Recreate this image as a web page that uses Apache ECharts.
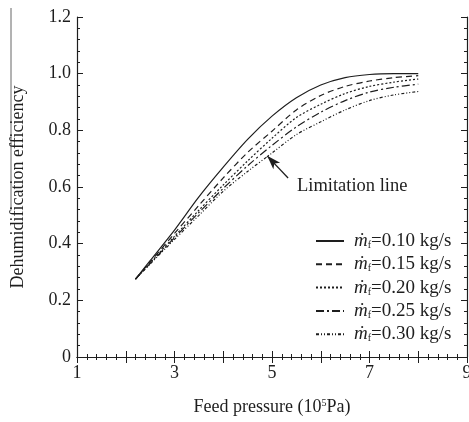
<!DOCTYPE html>
<html>
<head>
<meta charset="utf-8">
<script src="https://cdn.jsdelivr.net/npm/echarts@6/dist/echarts.min.js"></script>
<style>
  html, body { margin: 0; padding: 0; background: #fff; }
  #main { width: 469px; height: 422px; }
</style>
</head>
<body>
<div id="main"></div>
<script>
// feed pressure (10^5 Pa)
const pressure = [2.2, 2.5, 3, 3.5, 4, 4.5, 5, 5.5, 6, 6.5, 7, 7.5, 8]
// dehumidification efficiency for each feed flow rate
const eff010 = [0.275, 0.34, 0.448, 0.565, 0.67, 0.768, 0.85, 0.915, 0.96, 0.986, 0.997, 1.0, 1.0]
const eff015 = [0.275, 0.335, 0.436, 0.535, 0.632, 0.722, 0.797, 0.872, 0.923, 0.955, 0.974, 0.986, 0.993]
const eff020 = [0.275, 0.332, 0.426, 0.518, 0.607, 0.692, 0.772, 0.845, 0.892, 0.93, 0.955, 0.97, 0.981]
const eff025 = [0.275, 0.33, 0.421, 0.51, 0.595, 0.675, 0.747, 0.812, 0.864, 0.905, 0.935, 0.952, 0.963]
const eff030 = [0.275, 0.328, 0.415, 0.5, 0.585, 0.655, 0.72, 0.785, 0.83, 0.872, 0.905, 0.925, 0.937]
const flowNames = ['0.10', '0.15', '0.20', '0.25', '0.30']
const xTicks = [1, 3, 5, 7, 9]
// arrow of the "Limitation line" note: tail, tip
const arrowFrom = [5.33, 0.632]
const arrowTo = [4.9, 0.71]

const ink = '#1e1e1e'
const serif = '"Liberation Serif", "DejaVu Serif", serif'

const mChart = echarts.init(document.getElementById('main'))

const dashes = ['solid', [6, 4], [2, 2], [8, 3, 2, 3], [3, 2, 1, 2, 1, 2]]
const allEff = [eff010, eff015, eff020, eff025, eff030]

const getSeries = () => {
  const series = allEff.map((vals, i) => ({
    name: flowNames[i],
    type: 'line',
    symbol: 'none',
    smooth: 0.3,
    animation: false,
    xAxisIndex: 0,
    yAxisIndex: 0,
    lineStyle: { color: ink, width: 1.2, type: dashes[i] },
    data: vals.map((v, k) => [pressure[k], v])
  }))
  // arrow pointing at the lowest curve
  series[4].markLine = {
    silent: true,
    animation: false,
    symbol: ['none', 'arrow'],
    symbolSize: [7, 14],
    label: { show: false },
    lineStyle: { color: ink, width: 1.3, type: 'solid' },
    data: [[{ coord: arrowFrom }, { coord: arrowTo }]]
  }
  return series
}

const xBase = {
  type: 'value',
  min: 1,
  max: 9,
  interval: 1,
  axisLine: { show: true, lineStyle: { color: ink, width: 1.2 } },
  axisTick: { show: true, inside: true, length: 6, lineStyle: { color: ink } },
  minorTick: { show: true, splitNumber: 5, length: 3, lineStyle: { color: ink } },
  splitLine: { show: false }
}
const yBase = {
  type: 'value',
  min: 0,
  max: 1.2,
  interval: 0.2,
  axisLine: { show: true, lineStyle: { color: ink, width: 1.2 } },
  axisTick: { show: true, inside: true, length: 6, lineStyle: { color: ink } },
  minorTick: { show: true, splitNumber: 5, length: 3, lineStyle: { color: ink } },
  splitLine: { show: false }
}

const options = {
  backgroundColor: '#fff',
  animation: false,
  grid: { left: 77, top: 17, right: 2, bottom: 65, outerBoundsMode: 'none', containLabel: false },
  xAxis: [
    Object.assign({}, xBase, {
      position: 'bottom',
      name: 'Feed pressure (10{s|5}Pa)',
      nameLocation: 'middle',
      nameGap: 41,
      nameTextStyle: {
        color: ink, fontFamily: serif, fontSize: 18,
        rich: { s: { fontSize: 10, fontFamily: serif, color: ink, padding: [0, 0, 9, 0] } }
      },
      axisLabel: {
        color: ink, fontFamily: serif, fontSize: 18, margin: 7,
        formatter: v => (xTicks.includes(Math.round(v)) ? String(Math.round(v)) : '')
      }
    }),
    Object.assign({}, xBase, { position: 'top', axisLabel: { show: false } })
  ],
  yAxis: [
    Object.assign({}, yBase, {
      position: 'left',
      name: 'Dehumidification efficiency',
      nameLocation: 'middle',
      nameGap: 50,
      nameTextStyle: { color: ink, fontFamily: serif, fontSize: 18 },
      axisLabel: {
        color: ink, fontFamily: serif, fontSize: 18, margin: 6,
        formatter: v => (v === 0 ? '0' : v.toFixed(1))
      }
    }),
    Object.assign({}, yBase, { position: 'right', axisLabel: { show: false } })
  ],
  legend: {
    orient: 'vertical',
    left: 315,
    top: 231,
    padding: 0,
    itemWidth: 28,
    itemHeight: 10,
    itemGap: 3.3,
    itemStyle: { opacity: 0 },
    data: flowNames,
    formatter: name => '{m|ṁ}{f|f}{t|=' + name + ' kg/s}',
    textStyle: {
      color: ink,
      fontFamily: serif,
      fontSize: 19,
      lineHeight: 20,
      rich: {
        m: { fontFamily: serif, fontSize: 19, fontStyle: 'italic', color: ink, lineHeight: 20, padding: [0, 0, 0, 5] },
        f: { fontFamily: serif, fontSize: 10, color: ink, lineHeight: 10, padding: [9, 0, 0, 0] },
        t: { fontFamily: serif, fontSize: 19, color: ink, lineHeight: 20 }
      }
    }
  },
  graphic: [
    {
      type: 'text',
      left: 297,
      top: 177,
      style: { text: 'Limitation line', fill: ink, font: '18.5px ' + serif }
    },
    {
      type: 'line',
      shape: { x1: 11, y1: 8, x2: 11, y2: 210 },
      style: { stroke: '#666', lineWidth: 1 }
    }
  ],
  series: getSeries()
}

mChart.setOption(options)
</script>
</body>
</html>
